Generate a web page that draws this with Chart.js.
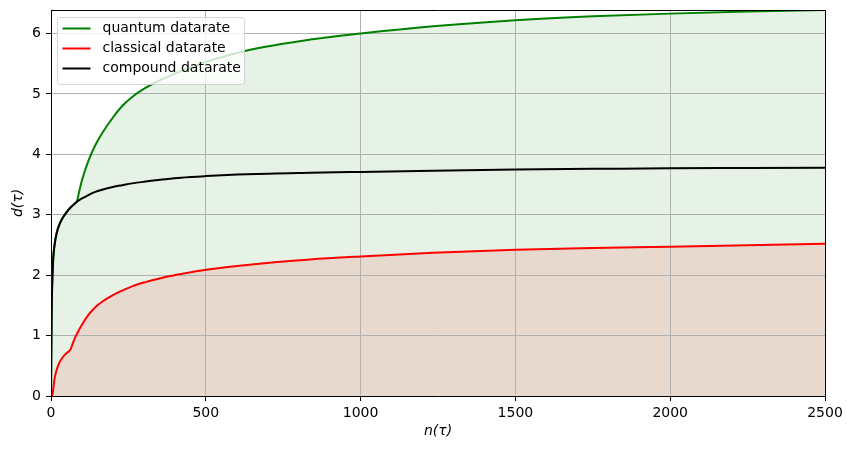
<!DOCTYPE html>
<html>
<head>
<meta charset="utf-8">
<script src="https://cdn.jsdelivr.net/npm/chart.js@4"></script>
<style>
    html, body { margin: 0; padding: 0; background: #fff; }
</style>
</head>
<body>
<canvas id="rateChart" width="852" height="450"></canvas>
<script>
const nValues = [0, 2, 4, 7, 12, 18, 28, 39, 50, 63, 71, 80, 84, 90, 100, 122, 143, 165, 200, 230, 262, 305, 337, 370, 420, 500, 633, 837, 1000, 1234, 1500, 1750, 2000, 2250, 2500];

const quantum = [0, 1.4, 1.9, 2.27, 2.52, 2.69, 2.85, 2.96, 3.04, 3.12, 3.16, 3.20, 3.22, 3.36, 3.57, 3.91, 4.15, 4.35, 4.61, 4.80, 4.95, 5.10, 5.19, 5.27, 5.38, 5.53, 5.72, 5.90, 6.00, 6.12, 6.22, 6.285, 6.33, 6.365, 6.39];

const classical = [0, 0, 0, 0.1, 0.3, 0.43, 0.56, 0.65, 0.71, 0.77, 0.88, 0.99, 1.03, 1.09, 1.18, 1.35, 1.47, 1.56, 1.67, 1.745, 1.815, 1.885, 1.93, 1.97, 2.02, 2.09, 2.17, 2.26, 2.31, 2.37, 2.42, 2.45, 2.47, 2.495, 2.52];

const compound = [0, 1.3, 1.85, 2.25, 2.52, 2.69, 2.85, 2.96, 3.04, 3.12, 3.16, 3.20, 3.22, 3.24, 3.27, 3.33, 3.38, 3.415, 3.46, 3.49, 3.52, 3.55, 3.57, 3.59, 3.615, 3.64, 3.67, 3.695, 3.71, 3.73, 3.75, 3.76, 3.77, 3.775, 3.78];

const seriesLabels = ['quantum datarate', 'classical datarate', 'compound datarate'];
const seriesColors = ['#008000', '#ff0000', '#000000'];

const xTicks = [0, 500, 1000, 1500, 2000, 2500];
const yTicks = [0, 1, 2, 3, 4, 5, 6];

const toPoints = (ys) => nValues.map((n, i) => ({ x: n, y: ys[i] }));

Chart.defaults.font.family = 'DejaVu Sans';
Chart.defaults.font.size = 14;
Chart.defaults.color = '#000';

// top/right spines and the matplotlib-like legend box
const frameAndLegend = {
    id: 'frame_and_legend',
    afterDatasetsDraw: (chart) => {
        const ctx = chart.ctx;
        const { left, top, right, bottom } = chart.chartArea;
        ctx.save();
        ctx.strokeStyle = '#000';
        ctx.lineWidth = 1;
        ctx.beginPath();
        ctx.moveTo(left, top + 0.5);
        ctx.lineTo(right + 0.5, top + 0.5);
        ctx.lineTo(right + 0.5, bottom);
        ctx.stroke();
        ctx.restore();
    },
    afterDraw: (chart) => {
        const ctx = chart.ctx;
        const { left, top } = chart.chartArea;
        const x = left + 6.5, y = top + 7.5;
        ctx.save();
        ctx.beginPath();
        ctx.roundRect(x, y, 187, 67, 3);
        ctx.fillStyle = 'rgba(255,255,255,0.8)';
        ctx.fill();
        ctx.strokeStyle = 'rgba(204,204,204,0.8)';
        ctx.lineWidth = 1;
        ctx.stroke();
        ctx.font = '14px "DejaVu Sans"';
        ctx.textBaseline = 'middle';
        ctx.textAlign = 'left';
        for (let i = 0; i < seriesLabels.length; i++) {
            const rowY = y + 11 + i * 20;
            ctx.strokeStyle = seriesColors[i];
            ctx.lineWidth = 2;
            ctx.beginPath();
            ctx.moveTo(x + 5, rowY);
            ctx.lineTo(x + 33, rowY);
            ctx.stroke();
            ctx.fillStyle = '#000';
            ctx.fillText(seriesLabels[i], x + 45, rowY);
        }
        ctx.restore();
    }
};

const data = {
    datasets: [{
        label: seriesLabels[0],
        data: toPoints(quantum),
        borderColor: seriesColors[0],
        backgroundColor: 'rgba(0,128,0,0.1)',
        fill: 'origin',
        order: 2
    }, {
        label: seriesLabels[1],
        data: toPoints(classical),
        borderColor: seriesColors[1],
        backgroundColor: 'rgba(255,0,0,0.1)',
        fill: 'origin',
        order: 1
    }, {
        label: seriesLabels[2],
        data: toPoints(compound),
        borderColor: seriesColors[2],
        fill: false,
        order: 0
    }]
};

const config = {
    type: 'line',
    data: data,
    options: {
        responsive: false,
        animation: false,
        devicePixelRatio: 1,
        layout: {
            padding: { left: 0, right: 27, top: 10, bottom: 0 }
        },
        elements: {
            point: { radius: 0 },
            line: { borderWidth: 2, cubicInterpolationMode: 'monotone' }
        },
        plugins: {
            legend: { display: false },
            tooltip: { enabled: false },
            filler: { drawTime: 'beforeDraw' }
        },
        scales: {
            x: {
                type: 'linear',
                min: 0,
                max: 2500,
                afterBuildTicks: (axis) => { axis.ticks = xTicks.map(v => ({ value: v })); },
                afterFit: (axis) => {
                    axis.height = 54;
                    axis.paddingLeft = 0;
                    axis.paddingRight = 0;
                },
                ticks: {
                    padding: 4,
                    maxRotation: 0,
                    callback: (v) => String(v)
                },
                grid: { color: '#b0b0b0', tickColor: '#000', tickLength: 5, lineWidth: 1 },
                border: { color: '#000', width: 1 },
                title: {
                    display: true,
                    text: 'n(τ)',
                    font: { size: 14, style: 'italic' },
                    padding: { top: 0, bottom: 10 }
                }
            },
            y: {
                type: 'linear',
                min: 0,
                max: 6.39,
                afterBuildTicks: (axis) => { axis.ticks = yTicks.map(v => ({ value: v })); },
                afterFit: (axis) => {
                    axis.width = 51;
                    axis.paddingTop = 0;
                    axis.paddingBottom = 0;
                },
                ticks: {
                    padding: 5,
                    callback: (v) => String(v)
                },
                grid: { color: '#b0b0b0', tickColor: '#000', tickLength: 5, lineWidth: 1 },
                border: { color: '#000', width: 1 },
                title: {
                    display: true,
                    text: 'd(τ)',
                    font: { size: 14, style: 'italic' },
                    padding: { top: 10, bottom: 0 }
                }
            }
        }
    },
    plugins: [frameAndLegend]
};

const rateChart = new Chart(document.getElementById('rateChart').getContext('2d'), config);
</script>
</body>
</html>
